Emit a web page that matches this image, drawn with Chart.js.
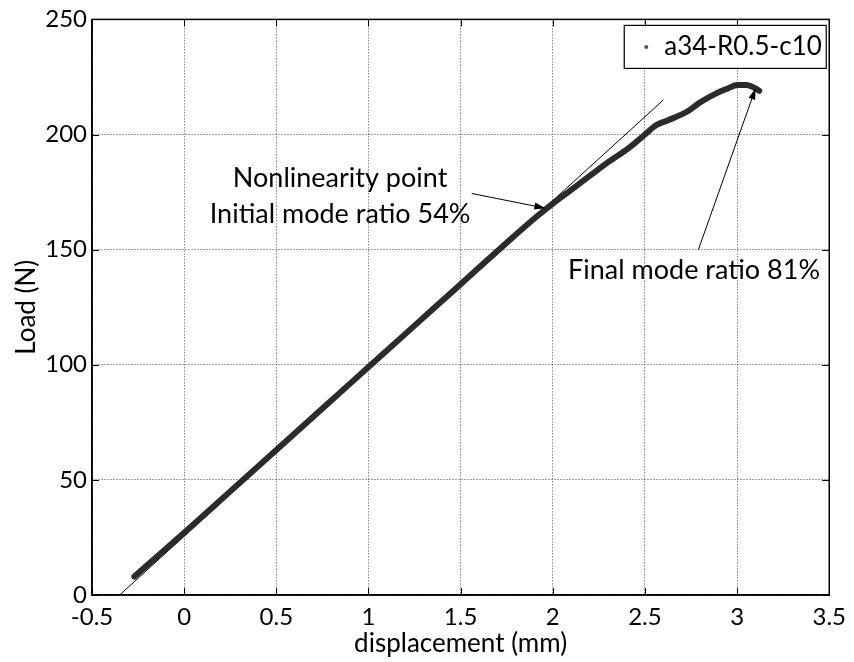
<!DOCTYPE html>
<html>
<head>
<meta charset="utf-8">
<script src="https://cdn.jsdelivr.net/npm/chart.js@4.4.1/dist/chart.umd.min.js"></script>
<style>
  html, body { margin: 0; padding: 0; background: #fff; }
  #wrap { width: 854px; height: 662px; }
</style>
</head>
<body>
<div id="wrap"><canvas id="loadChart" width="854" height="662"></canvas></div>
<script>
const dispMm = [-0.27, -0.1, 0, 0.25, 0.5, 0.75, 1, 1.25, 1.5, 1.75, 1.9, 2.0, 2.1, 2.2, 2.3, 2.41, 2.5, 2.56, 2.62, 2.73, 2.8, 2.89, 2.95, 3.0, 3.05, 3.1, 3.12];
const loadN = [8, 20, 27, 45, 63, 81, 99, 117, 135, 153, 163.5, 170, 176, 182, 188, 194, 200, 204, 206, 210, 214, 218, 220, 221.5, 221.5, 220, 219];

// initial stiffness line
const tangentX = [-0.35, 2.6];
const tangentY = [0, 215];

const seriesName = 'a34-R0.5-c10';
const notes = ['Nonlinearity point', 'Initial mode ratio 54%', 'Final mode ratio 81%'];

const FONT = 'Lato, "Open Sans", sans-serif';

// where the notes and arrows sit, in data units
const noteSpots = [
    { text: notes[0], x: 0.846, y: 181, align: 'center' },
    { text: notes[1], x: 0.846, y: 165.5, align: 'center' },
    { text: notes[2], x: 3.45, y: 141, align: 'right' }
];
const arrows = [
    { from: [1.56, 174.4], to: [1.96, 168] },
    { from: [2.79, 150], to: [3.1, 220] }
];

function drawArrow(ctx, x1, y1, x2, y2) {
    const ang = Math.atan2(y2 - y1, x2 - x1);
    const len = 11, half = 3.5;
    ctx.beginPath();
    ctx.moveTo(x1, y1);
    ctx.lineTo(x2 - Math.cos(ang) * len * 0.8, y2 - Math.sin(ang) * len * 0.8);
    ctx.stroke();
    ctx.beginPath();
    ctx.moveTo(x2, y2);
    ctx.lineTo(x2 - Math.cos(ang) * len + Math.sin(ang) * half, y2 - Math.sin(ang) * len - Math.cos(ang) * half);
    ctx.lineTo(x2 - Math.cos(ang) * len - Math.sin(ang) * half, y2 - Math.sin(ang) * len + Math.cos(ang) * half);
    ctx.closePath();
    ctx.fill();
}

const framePlugin = {
    id: 'frame',
    afterDraw(chart) {
        const { ctx, chartArea: a, scales: { x, y } } = chart;
        ctx.save();
        ctx.strokeStyle = '#000';
        ctx.fillStyle = '#000';

        // box round the plot
        ctx.lineWidth = 1.5;
        ctx.strokeRect(a.left, a.top, a.width, a.height);

        // matlab style inward ticks
        ctx.lineWidth = 1;
        ctx.beginPath();
        x.ticks.forEach(t => {
            const px = Math.round(x.getPixelForValue(t.value)) + 0.5;
            ctx.moveTo(px, a.bottom); ctx.lineTo(px, a.bottom - 7);
            ctx.moveTo(px, a.top); ctx.lineTo(px, a.top + 7);
        });
        y.ticks.forEach(t => {
            const py = Math.round(y.getPixelForValue(t.value)) + 0.5;
            ctx.moveTo(a.left, py); ctx.lineTo(a.left + 7, py);
            ctx.moveTo(a.right, py); ctx.lineTo(a.right - 7, py);
        });
        ctx.stroke();

        // notes
        ctx.font = '27px ' + FONT;
        ctx.textBaseline = 'middle';
        noteSpots.forEach(n => {
            ctx.textAlign = n.align;
            ctx.fillText(n.text, x.getPixelForValue(n.x), y.getPixelForValue(n.y));
        });

        // arrows
        ctx.lineWidth = 1;
        arrows.forEach(ar => {
            drawArrow(ctx,
                x.getPixelForValue(ar.from[0]), y.getPixelForValue(ar.from[1]),
                x.getPixelForValue(ar.to[0]), y.getPixelForValue(ar.to[1]));
        });

        // legend box, top right inside the axes
        const bw = 202, bh = 43;
        const bx = a.right - bw - 3, by = a.top + 6;
        ctx.fillStyle = '#fff';
        ctx.fillRect(bx, by, bw, bh);
        ctx.lineWidth = 1.2;
        ctx.strokeRect(bx, by, bw, bh);
        ctx.fillStyle = '#555';
        ctx.beginPath();
        ctx.arc(bx + 22, by + bh / 2, 2, 0, Math.PI * 2);
        ctx.fill();
        ctx.fillStyle = '#000';
        ctx.textAlign = 'left';
        ctx.font = '26px ' + FONT;
        ctx.fillText(chart.data.datasets[0].label, bx + 40, by + bh / 2);

        ctx.restore();
    }
};

const ctx = document.getElementById('loadChart').getContext('2d');
new Chart(ctx, {
    type: 'line',
    data: {
        datasets: [{
            label: seriesName,
            data: dispMm.map((d, i) => ({ x: d, y: loadN[i] })),
            borderColor: '#2b2b2b',
            borderWidth: 6,
            pointRadius: 0,
            cubicInterpolationMode: 'monotone',
            borderCapStyle: 'round'
        }, {
            label: 'tangent',
            data: tangentX.map((d, i) => ({ x: d, y: tangentY[i] })),
            borderColor: '#000',
            borderWidth: 1,
            pointRadius: 0
        }]
    },
    options: {
        responsive: false,
        animation: false,
        layout: { padding: { left: 11, right: 22, top: 17, bottom: 0 } },
        plugins: {
            legend: { display: false },
            tooltip: { enabled: false }
        },
        scales: {
            x: {
                type: 'linear',
                min: -0.5,
                max: 3.5,
                ticks: { stepSize: 0.5, color: '#000', padding: 8, font: { family: FONT, size: 24 }, callback: v => String(v) },
                grid: { color: '#444', lineWidth: 1, drawTicks: false },
                border: { display: true, color: '#000', width: 1.5, dash: [1, 2] },
                title: { display: true, text: 'displacement (mm)', color: '#000', padding: { top: 0, bottom: 3 }, font: { family: FONT, size: 26 } },
                afterFit: s => { s.height = 67; }
            },
            y: {
                min: 0,
                max: 250,
                ticks: { stepSize: 50, color: '#000', padding: 5, font: { family: FONT, size: 24 }, callback: v => String(v) },
                grid: { color: '#444', lineWidth: 1, drawTicks: false },
                border: { display: true, color: '#000', width: 1.5, dash: [1, 2] },
                title: { display: true, text: 'Load (N)', color: '#000', padding: { top: 0, bottom: 0 }, font: { family: FONT, size: 26 } },
                afterFit: s => { s.width = 81; }
            }
        }
    },
    plugins: [framePlugin]
});
</script>
</body>
</html>
